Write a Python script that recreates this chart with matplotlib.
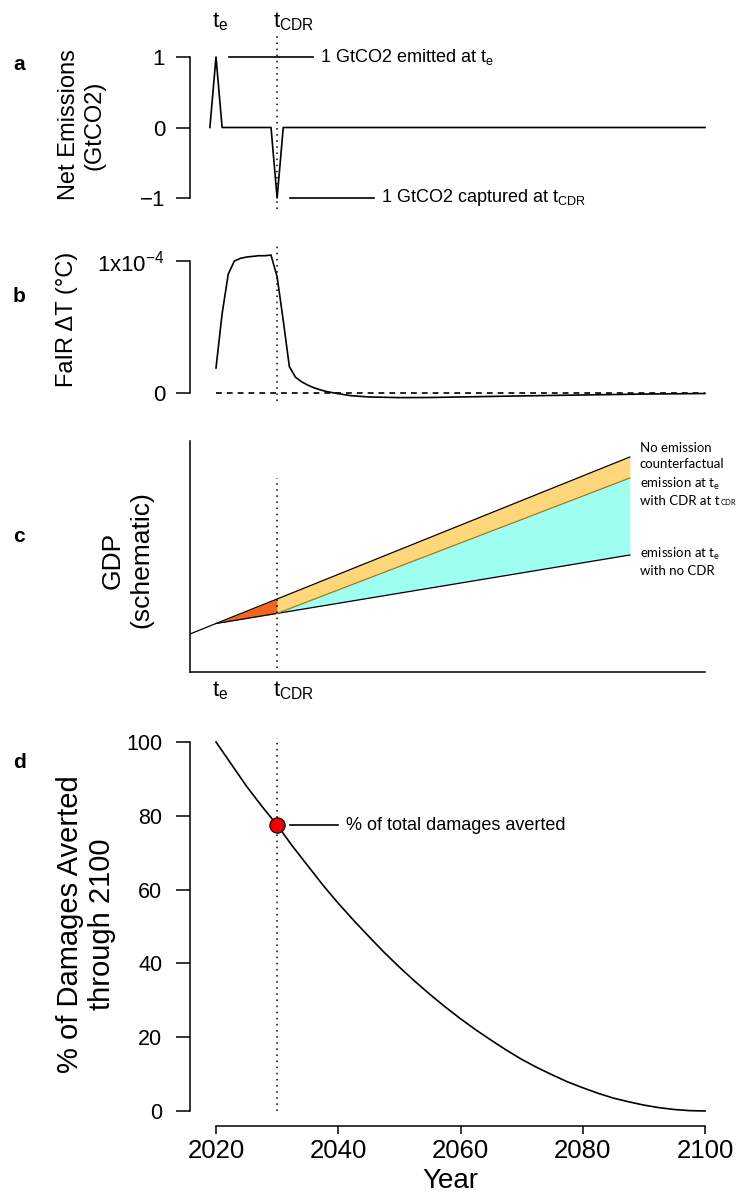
import numpy as np
import matplotlib
matplotlib.use("Agg")
import matplotlib.pyplot as plt

plt.rcParams['font.family'] = ['Liberation Sans', 'DejaVu Sans']
plt.rcParams['mathtext.fontset'] = 'custom'
plt.rcParams['mathtext.rm'] = 'Liberation Sans'
plt.rcParams['mathtext.it'] = 'Liberation Sans:italic'
plt.rcParams['mathtext.sf'] = 'Lato'

# --- data ---
T_E = 2020
T_CDR = 2030

# a: net emission pulse and later removal
emis_years = [2019, 2020, 2021, 2029, 2030, 2031, 2100]
emis_values = [0, 1, 0, 0, -1, 0, 0]

# b: FaIR temperature response (degC)
fair_years = [2020, 2021, 2022, 2023, 2024, 2025, 2026, 2027, 2028, 2029,
              2030, 2031, 2032, 2033, 2034, 2035, 2036, 2037, 2038, 2039,
              2040, 2042, 2045, 2050, 2055, 2060, 2070, 2080, 2090, 2100]
fair_dT = np.array([0.19, 0.60, 0.90, 1.00, 1.02, 1.03, 1.035, 1.04, 1.04, 1.045,
                    0.88, 0.55, 0.20, 0.12, 0.085, 0.06, 0.04, 0.025, 0.012, 0.003,
                    -0.005, -0.02, -0.03, -0.035, -0.034, -0.03, -0.022, -0.015,
                    -0.008, -0.004]) * 1e-4

# c: schematic GDP paths
gdp_years = [2015.75, 2020, 2030, 2087.7]
gdp_counterfactual = [38, 48.5, 73, 215]
gdp_no_cdr_years = [2020, 2030, 2087.7]
gdp_no_cdr = [48.5, 58.6, 117]
gdp_cdr_years = [2030, 2087.7]
gdp_cdr = [58.6, 194]

# d: share of damages averted through 2100 by CDR year
avert_years = [2020, 2022.5, 2025, 2027.5, 2030, 2032.5, 2035, 2037.5, 2040,
               2042.5, 2045, 2047.5, 2050, 2052.5, 2055, 2057.5, 2060, 2062.5,
               2065, 2067.5, 2070, 2072.5, 2075, 2077.5, 2080, 2082.5, 2085,
               2087.5, 2090, 2092.5, 2095, 2097.5, 2100]
avert_pct = [100, 94, 88, 82.6, 77.5, 71.8, 66.5, 61.2, 56.3,
             51.7, 47.3, 43, 39, 35.2, 31.6, 28.2, 25, 22,
             19.2, 16.5, 14, 11.8, 9.8, 7.9, 6.3, 4.8, 3.5,
             2.5, 1.6, 0.9, 0.4, 0.1, 0]
avert_at_cdr = 77.5

# --- layout helpers (pixel boxes) ---
W, H = 736, 1197
fig = plt.figure(figsize=(W / 100, H / 100), dpi=100)
PXY = (705 - 216) / 80.0  # pixels per year


def add_axes_px(left, right, top, bottom):
    ax = fig.add_axes([left / W, 1 - bottom / H, (right - left) / W, (bottom - top) / H])
    ax.set_xlim(2020 + (left - 216) / PXY, 2020 + (right - 216) / PXY)
    ax.patch.set_alpha(0)
    return ax


def set_ylim_px(ax, top, bottom, p1, v1, p2, v2):
    scale = (v1 - v2) / (p2 - p1)
    ax.set_ylim(v2 - (bottom - p2) * scale, v1 + (p1 - top) * scale)


def r_style(ax):
    for s in ['top', 'right']:
        ax.spines[s].set_visible(False)
    for s in ['left', 'bottom']:
        ax.spines[s].set_linewidth(1.1)


def fig_text(x, y, s, **kw):
    return fig.text(x / W, 1 - y / H, s, **kw)


LW = 1.2

# ---------------- panel a ----------------
ax = add_axes_px(190, 710, 28, 212)
set_ylim_px(ax, 28, 212, 57, 1, 198, -1)
r_style(ax)
ax.spines['bottom'].set_visible(False)
ax.spines['left'].set_bounds(-1, 1)
ax.set_xticks([])
ax.set_yticks([-1, 0, 1])
ax.set_yticklabels(['\u22121', '0', '1'])
ax.tick_params(axis='y', labelsize=16, length=10, width=1.1, pad=8)
ax.plot(emis_years, emis_values, color='black', lw=LW)
ax.plot([T_CDR, T_CDR], [-1.15, 1.36], color='black', lw=1.1, ls=(0, (1, 3)))
ax.plot([2022.1, 2035.9], [1, 1], color='black', lw=LW)
ax.text(2037.0, 1, r'1 GtCO2 emitted at t$_\mathrm{e}$', fontsize=13, va='center')
ax.plot([2032.1, 2045.85], [-1, -1], color='black', lw=LW)
ax.text(2047.0, -1, r'1 GtCO2 captured at t$_\mathrm{CDR}$', fontsize=13, va='center')

fig_text(212, 22, r'$\mathrm{t}_\mathrm{e}$', fontsize=16, va='center')
fig_text(273, 22, r'$\mathrm{t}_\mathrm{CDR}$', fontsize=16, va='center')

# ---------------- panel b ----------------
ax = add_axes_px(190, 710, 240, 408)
set_ylim_px(ax, 240, 408, 261, 1e-4, 393, 0)
r_style(ax)
ax.spines['bottom'].set_visible(False)
ax.spines['left'].set_bounds(0, 1e-4)
ax.set_xticks([])
ax.set_yticks([0, 1e-4])
ax.set_yticklabels(['0', r'1x10$^{-4}$'])
ax.tick_params(axis='y', labelsize=16, length=10, width=1.1, pad=8)
ax.plot([2020, 2100], [0, 0], color='black', lw=LW, ls=(0, (3.5, 3)))
ax.plot(fair_years, fair_dT, color='black', lw=LW)
ax.plot([T_CDR, T_CDR], [-0.06e-4, 1.13e-4], color='black', lw=1.1, ls=(0, (1, 3)))

# ---------------- panel c ----------------
ax = add_axes_px(190, 705, 441, 672)
ax.set_ylim(0, 231)
r_style(ax)
ax.set_xticks([])
ax.set_yticks([])

cf = lambda yrs: np.interp(yrs, gdp_years, gdp_counterfactual)
ax.fill_between([2020, 2030], cf([2020, 2030]), gdp_no_cdr[:2],
                color='#F5641E', lw=0)
ax.fill_between(gdp_cdr_years, cf(gdp_cdr_years), gdp_cdr,
                color='#FFD77A', lw=0)
ax.fill_between(gdp_cdr_years, gdp_cdr, np.interp(gdp_cdr_years, gdp_no_cdr_years, gdp_no_cdr),
                color='#9EFFF1', lw=0)
ax.plot(gdp_years, gdp_counterfactual, color='black', lw=0.9)
ax.plot(gdp_no_cdr_years, gdp_no_cdr, color='black', lw=0.9)
ax.plot(gdp_cdr_years, gdp_cdr, color='#A07A10', lw=0.9)
ax.plot([T_CDR, T_CDR], [4, 194], color='black', lw=1.1, ls=(0, (1, 3)))

lab_kw = dict(fontsize=9.5, family='Lato', va='center', linespacing=1.3)
fig_text(640, 456, 'No emission\ncounterfactual', **lab_kw)
cdr_lab = fig_text(640, 491, 'emission at $\\mathsf{t_e}$\nwith CDR at t', **lab_kw)
# small "CDR" subscript hung off the end of the second line
ax.annotate('CDR', xy=(1, 0), xycoords=cdr_lab, xytext=(0.2, 0.5),
            textcoords='offset points', fontsize=5.5, family='Lato',
            ha='left', va='bottom', annotation_clip=False)
fig_text(640, 561, 'emission at $\\mathsf{t_e}$\nwith no CDR', **lab_kw)

fig_text(212, 691, r'$\mathrm{t}_\mathrm{e}$', fontsize=16, va='center')
fig_text(273, 691, r'$\mathrm{t}_\mathrm{CDR}$', fontsize=16, va='center')

# ---------------- panel d ----------------
ax = add_axes_px(190, 710, 735, 1126)
set_ylim_px(ax, 735, 1126, 742, 100, 1111, 0)
r_style(ax)
ax.spines['left'].set_bounds(0, 100)
ax.spines['bottom'].set_bounds(2020, 2100)
ax.set_yticks([0, 20, 40, 60, 80, 100])
ax.set_xticks([2020, 2040, 2060, 2080, 2100])
ax.tick_params(axis='y', labelsize=15.5, length=10, width=1.1, pad=10)
ax.tick_params(axis='x', labelsize=18.5, length=6, width=1.1, pad=3)
ax.plot(avert_years, avert_pct, color='black', lw=LW)
ax.plot([T_CDR, T_CDR], [0, 101], color='black', lw=1.1, ls=(0, (1, 3)))
ax.plot([T_CDR], [avert_at_cdr], marker='o', ms=11, mfc='#EE0000', mec='black',
        mew=0.8, zorder=5)
ax.plot([2032.1, 2040.0], [avert_at_cdr] * 2, color='black', lw=LW)
ax.text(2041.3, avert_at_cdr, '% of total damages averted', fontsize=13, va='center')
ax.set_xlabel('Year', fontsize=20, labelpad=4)

# ---------------- axis titles and panel letters ----------------
fig_text(82, 125, 'Net Emissions\n(GtCO2)', fontsize=17, rotation=90,
         ha='center', va='center', multialignment='center')
fig_text(67, 319, 'FaIR \u0394T (\u00b0C)', fontsize=17, rotation=90,
         ha='center', va='center')
fig_text(127, 560, 'GDP\n(schematic)', fontsize=19, rotation=90,
         ha='center', va='center', multialignment='center')
fig_text(86, 924, '% of Damages Averted\nthrough 2100', fontsize=21, rotation=90,
         ha='center', va='center', multialignment='center')

for letter, y in [('a', 64), ('b', 296), ('c', 536), ('d', 762)]:
    fig_text(13, y, letter, fontsize=15, fontweight='bold', va='center')

fig.savefig('out.png', dpi=100)
